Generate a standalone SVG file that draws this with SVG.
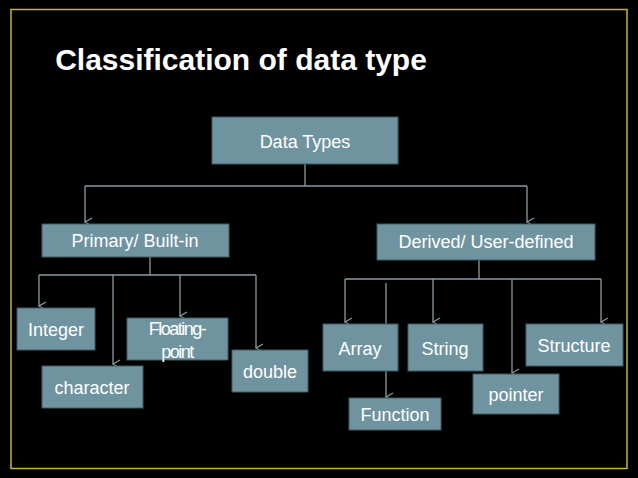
<svg xmlns="http://www.w3.org/2000/svg" width="638" height="478" viewBox="0 0 638 478">
<style>
.b{fill:#6f949f;stroke:#3f5d66;stroke-width:1}
.t{font-family:"Liberation Sans",Arial,sans-serif;fill:#fff;font-size:18px;text-anchor:middle}
.c line{stroke:#8a9ba0;stroke-width:1.3}
.a{marker-end:url(#m)}
</style>
<defs><marker id="m" markerWidth="10" markerHeight="10" refX="5" refY="8" orient="auto" markerUnits="userSpaceOnUse"><path d="M1,1 L5,8 L9,1" fill="none" stroke="#8a9ba0" stroke-width="1.2"/></marker></defs>
<rect width="638" height="478" fill="#000"/>
<rect x="11" y="9.5" width="616" height="459" fill="none" stroke="#c8b43c" stroke-width="1.5"/>
<text x="241" y="70" font-family="Liberation Sans,Arial,sans-serif" font-weight="bold" font-size="30" fill="#fff" text-anchor="middle">Classification of data type</text>
<g class="c">
<line x1="305" y1="164" x2="305" y2="186"/><line x1="85" y1="186" x2="527" y2="186"/>
<line class="a" x1="85" y1="186" x2="85" y2="222"/><line class="a" x1="527" y1="186" x2="527" y2="222"/>
<line x1="150" y1="257" x2="150" y2="275"/><line x1="39" y1="275" x2="256" y2="275"/>
<line class="a" x1="39" y1="275" x2="39" y2="306"/><line class="a" x1="113" y1="275" x2="113" y2="364"/>
<line class="a" x1="180" y1="275" x2="180" y2="316"/><line class="a" x1="256" y1="275" x2="256" y2="348"/>
<line x1="479" y1="260" x2="479" y2="279"/><line x1="345" y1="279" x2="601" y2="279"/>
<line class="a" x1="345" y1="279" x2="345" y2="322"/><line class="a" x1="433" y1="279" x2="433" y2="322"/>
<line class="a" x1="601" y1="279" x2="601" y2="322"/><line class="a" x1="512" y1="279" x2="512" y2="373"/>
<line x1="386" y1="283" x2="386" y2="324"/><line class="a" x1="386" y1="371" x2="386" y2="397"/>
</g>
<g id="datatypes"><rect class="b" x="212" y="117" width="186" height="47"/><text class="t" x="305" y="148">Data Types</text></g>
<g id="primary"><rect class="b" x="42" y="224" width="187" height="33"/><text class="t" x="135" y="247">Primary/ Built-in</text></g>
<g id="derived"><rect class="b" x="377" y="224" width="218" height="36"/><text class="t" x="486" y="248">Derived/ User-defined</text></g>
<g id="integer"><rect class="b" x="17" y="308" width="78" height="42"/><text class="t" x="56" y="336">Integer</text></g>
<g id="character"><rect class="b" x="42" y="366" width="101" height="42"/><text class="t" x="92" y="394">character</text></g>
<g id="floating"><rect class="b" x="127" y="318" width="101" height="42"/><text class="t" x="177" y="335" letter-spacing="-1.5">Floating-</text><text class="t" x="177" y="358" letter-spacing="-1.5">point</text></g>
<g id="double"><rect class="b" x="232" y="350" width="76" height="42"/><text class="t" x="270" y="378">double</text></g>
<g id="array"><rect class="b" x="323" y="324" width="75" height="47"/><text class="t" x="360" y="355">Array</text></g>
<g id="string"><rect class="b" x="408" y="324" width="75" height="47"/><text class="t" x="445" y="355">String</text></g>
<g id="structure"><rect class="b" x="526" y="324" width="97" height="42"/><text class="t" x="574" y="352">Structure</text></g>
<g id="pointer"><rect class="b" x="473" y="374" width="86" height="40"/><text class="t" x="516" y="401">pointer</text></g>
<g id="function"><rect class="b" x="349" y="398" width="92" height="32"/><text class="t" x="395" y="421">Function</text></g>
</svg>
